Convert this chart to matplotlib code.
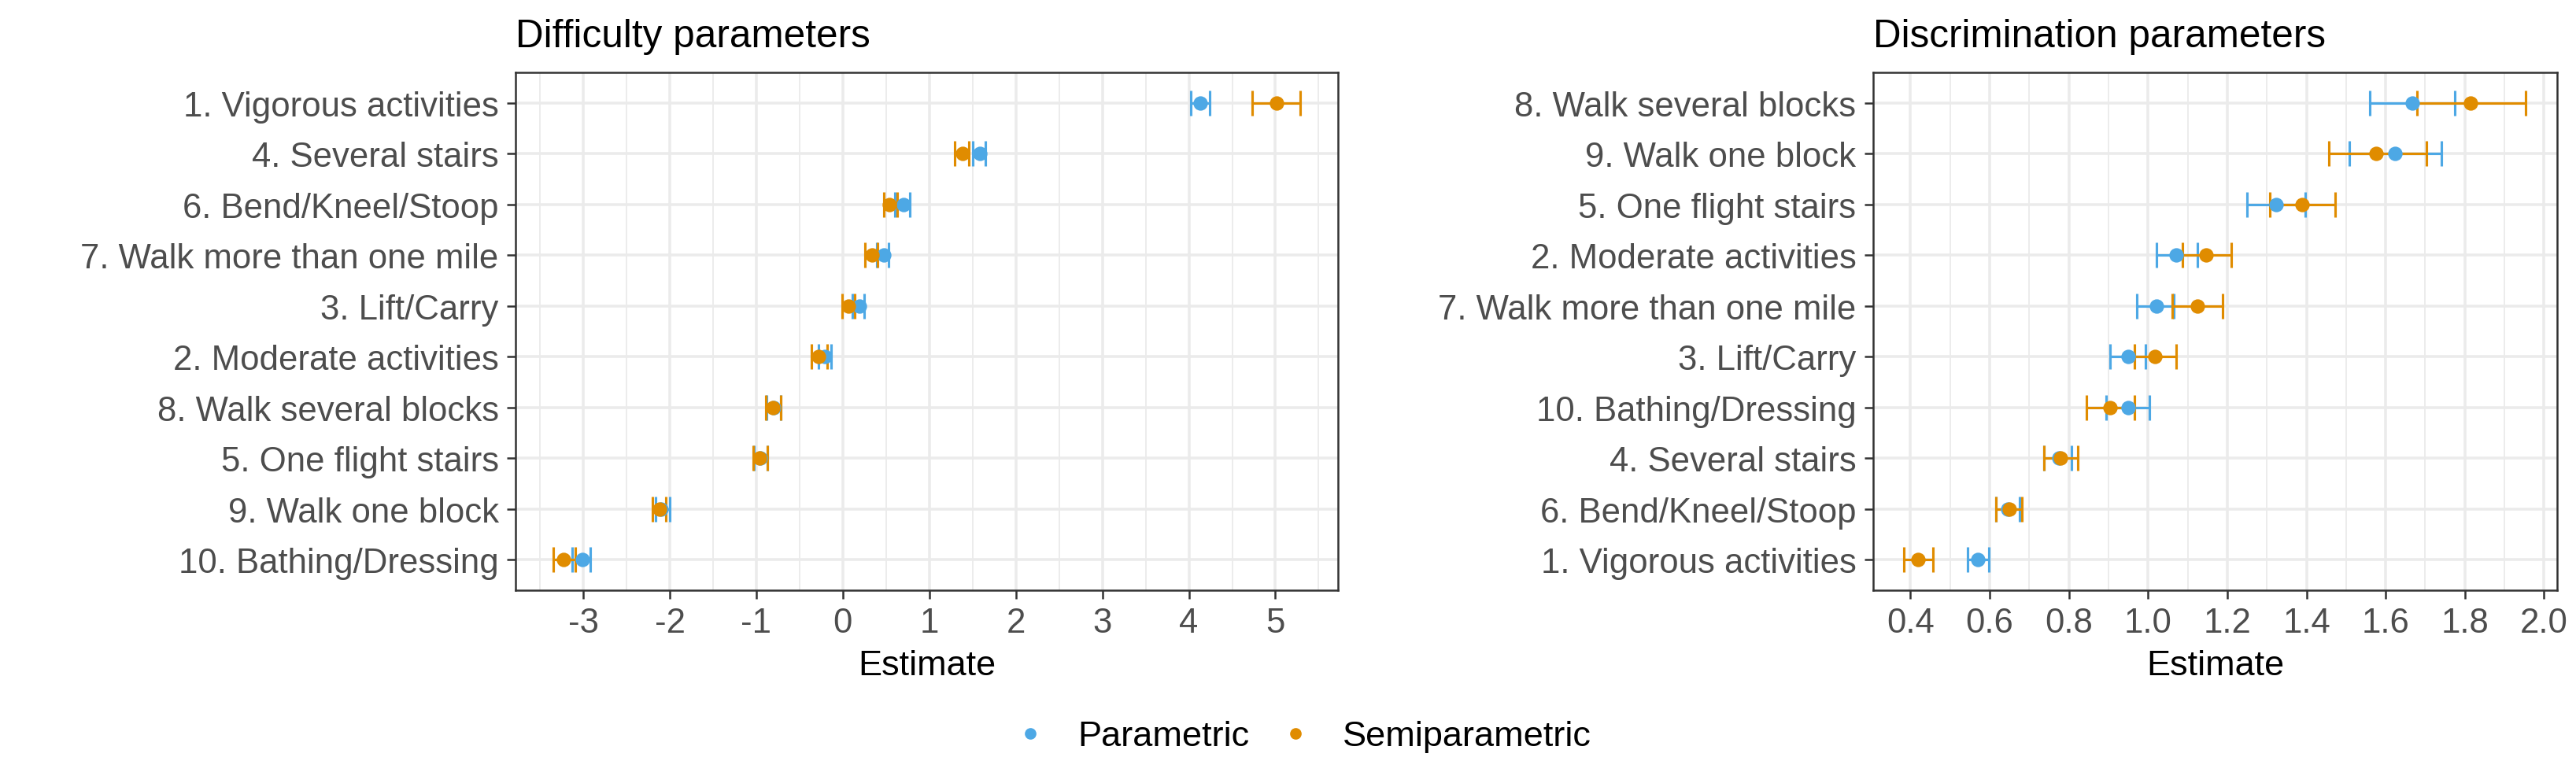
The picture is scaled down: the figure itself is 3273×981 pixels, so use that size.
import numpy as np
import matplotlib.pyplot as plt
from matplotlib.ticker import MultipleLocator

plt.rcParams['font.family'] = ['Liberation Sans', 'DejaVu Sans']

# Difficulty parameters (top to bottom)
diff_items = ["1. Vigorous activities", "4. Several stairs", "6. Bend/Kneel/Stoop",
              "7. Walk more than one mile", "3. Lift/Carry", "2. Moderate activities",
              "8. Walk several blocks", "5. One flight stairs", "9. Walk one block",
              "10. Bathing/Dressing"]
diff_par_est = [4.13, 1.58, 0.70, 0.47, 0.19, -0.21, -0.80, -0.955, -2.10, -3.01]
diff_par_lo = [4.02, 1.50, 0.60, 0.39, 0.11, -0.28, -0.88, -1.03, -2.16, -3.13]
diff_par_hi = [4.24, 1.65, 0.77, 0.53, 0.25, -0.135, -0.72, -0.875, -2.00, -2.92]
diff_semi_est = [5.01, 1.38, 0.54, 0.335, 0.066, -0.28, -0.81, -0.96, -2.12, -3.23]
diff_semi_lo = [4.73, 1.29, 0.47, 0.26, -0.01, -0.36, -0.89, -1.04, -2.20, -3.35]
diff_semi_hi = [5.29, 1.46, 0.63, 0.40, 0.14, -0.185, -0.72, -0.875, -2.05, -3.09]

# Discrimination parameters (top to bottom)
disc_items = ["8. Walk several blocks", "9. Walk one block", "5. One flight stairs",
              "2. Moderate activities", "7. Walk more than one mile", "3. Lift/Carry",
              "10. Bathing/Dressing", "4. Several stairs", "6. Bend/Kneel/Stoop",
              "1. Vigorous activities"]
disc_par_est = [1.668, 1.624, 1.323, 1.071, 1.022, 0.949, 0.949, 0.774, 0.645, 0.570]
disc_par_lo = [1.560, 1.508, 1.250, 1.022, 0.971, 0.905, 0.895, 0.738, 0.616, 0.544]
disc_par_hi = [1.775, 1.741, 1.397, 1.125, 1.066, 0.993, 1.003, 0.807, 0.676, 0.597]
disc_semi_est = [1.815, 1.576, 1.388, 1.146, 1.124, 1.018, 0.905, 0.778, 0.649, 0.420]
disc_semi_lo = [1.680, 1.456, 1.308, 1.086, 1.061, 0.965, 0.845, 0.737, 0.616, 0.384]
disc_semi_hi = [1.954, 1.703, 1.473, 1.210, 1.189, 1.070, 0.966, 0.822, 0.681, 0.457]

models = ["Parametric", "Semiparametric"]
colors = ["#4DA8E5", "#E08C00"]

fig = plt.figure(figsize=(10.9133, 3.2733), dpi=300)
ax1 = fig.add_axes([0.2001, 0.2352, 0.3191, 0.670])
ax2 = fig.add_axes([0.7269, 0.2352, 0.2654, 0.670])


def panel(ax, title, items, series, major, minor):
    y = np.arange(len(items))
    # error bars first, then points on top
    for (est, lo, hi), c in zip(series, colors):
        est, lo, hi = map(np.asarray, (est, lo, hi))
        ax.errorbar(est, y, xerr=[est - lo, hi - est], fmt='none', ecolor=c,
                    elinewidth=0.75, capsize=3.8, capthick=0.75, zorder=3)
    for (est, lo, hi), c, m in zip(series, colors, models):
        ax.plot(est, y, 'o', color=c, ms=4.4, mec='none', zorder=4, label=m)

    allv = np.concatenate([np.concatenate([lo, hi]) for _, lo, hi in series])
    span = allv.max() - allv.min()
    ax.set_xlim(allv.min() - 0.05 * span, allv.max() + 0.05 * span)
    ax.set_ylim(len(items) - 0.4, -0.6)
    ax.set_yticks(y)
    ax.set_yticklabels(items)
    ax.xaxis.set_major_locator(MultipleLocator(major))
    ax.xaxis.set_minor_locator(MultipleLocator(minor))

    ax.grid(True, which='major', color='#EBEBEB', lw=0.85, zorder=0)
    ax.grid(True, which='minor', axis='x', color='#EBEBEB', lw=0.45, zorder=0)
    ax.set_axisbelow(True)
    for s in ax.spines.values():
        s.set_color('#333333')
        s.set_linewidth(0.6)
    ax.tick_params(which='major', length=2.75, width=0.6, color='#333333',
                   labelsize=10.5, labelcolor='#4D4D4D', pad=2.4)
    ax.tick_params(which='minor', length=0)
    ax.set_xlabel('Estimate', fontsize=10.8, labelpad=3)
    ax.set_title(title, loc='left', fontsize=11.9, pad=7.9)


panel(ax1, "Difficulty parameters", diff_items,
      [(diff_par_est, diff_par_lo, diff_par_hi),
       (diff_semi_est, diff_semi_lo, diff_semi_hi)], 1, 0.5)
ax1.set_xticklabels([str(int(v)) for v in ax1.get_xticks()])
panel(ax2, "Discrimination parameters", disc_items,
      [(disc_par_est, disc_par_lo, disc_par_hi),
       (disc_semi_est, disc_semi_lo, disc_semi_hi)], 0.2, 0.1)
ax2.xaxis.set_major_formatter(plt.FormatStrFormatter('%.1f'))

handles, labels = ax1.get_legend_handles_labels()
fig.legend(handles, labels, loc='center', bbox_to_anchor=(0.5067, 0.046),
           ncol=2, frameon=False, fontsize=10.85, handlelength=0.6,
           handletextpad=1.03, columnspacing=1.0, markerscale=0.8)

fig.savefig('out.png', dpi=300)
